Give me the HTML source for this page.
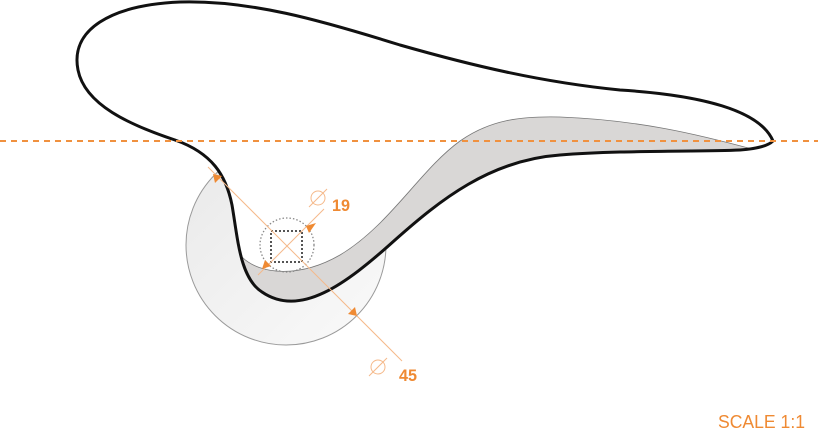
<!DOCTYPE html>
<html><head><meta charset="utf-8"><style>
html,body{margin:0;padding:0;background:#fff;width:818px;height:433px;overflow:hidden}
svg{display:block}
</style></head><body>
<svg width="818" height="433" viewBox="0 0 818 433" xmlns="http://www.w3.org/2000/svg">
<defs>
<linearGradient id="g1" x1="0" y1="0" x2="1" y2="1">
<stop offset="0" stop-color="#e9e9e9"/><stop offset="1" stop-color="#fafafa"/>
</linearGradient>
</defs>
<circle cx="286" cy="245" r="100" fill="url(#g1)" stroke="#9a9a9a" stroke-width="1"/>
<path d="M773,141 C760,110 700,95 620,90 C540,82 470,65 400,45 C320,20 250,0 180,2 C110,5 70,30 78,70 C85,105 130,125 175,140 C212,153 226,175 232,205 C238,240 240,278 262,292 C300,318 345,285 395,240 C440,200 490,160 560,155 C620,150 700,152 740,150 C755,149 768,146 773,141 Z" fill="#fff"/>
<path d="M242,257 C260,275 300,278 340,255 C390,225 420,170 460,141 C490,120 520,116 560,117 C640,120 700,135 752,149 C700,152 620,150 560,155 C490,160 440,200 395,240 C345,285 300,318 262,292 C252,284 246,270 242,257 Z" fill="#d9d7d6" stroke="#777" stroke-width="0.8"/>
<circle cx="287" cy="245" r="27" fill="none" stroke="#888" stroke-width="1.3" stroke-dasharray="1.5 2"/>
<rect x="271" y="231" width="31" height="31" fill="none" stroke="#555" stroke-width="2" stroke-dasharray="2 2"/>
<path d="M773,141 C760,110 700,95 620,90 C540,82 470,65 400,45 C320,20 250,0 180,2 C110,5 70,30 78,70 C85,105 130,125 175,140 C212,153 226,175 232,205 C238,240 240,278 262,292 C300,318 345,285 395,240 C440,200 490,160 560,155 C620,150 700,152 740,150 C755,149 768,146 773,141 Z" fill="none" stroke="#111" stroke-width="3"/>
<line x1="0" y1="141" x2="818" y2="141" stroke="#f0913f" stroke-width="2" stroke-dasharray="6 5"/>
<g stroke="#f5b98a" stroke-width="1" fill="none">
<line x1="208" y1="167" x2="402" y2="361"/>
<line x1="324" y1="209" x2="258" y2="275"/>
<circle cx="318" cy="198" r="7"/>
<line x1="309" y1="207" x2="327" y2="189"/>
<circle cx="378" cy="367" r="7"/>
<line x1="369" y1="376" x2="387" y2="358"/>
</g>
<g fill="#ef8a33">
<polygon points="213,174 222,176 215,183"/>
<polygon points="357,316 348,314 355,307"/>
<polygon points="306,226 316,223 309,233"/>
<polygon points="262,269 265,260 271,266"/>
</g>
<g font-family="'Liberation Sans',sans-serif" font-weight="bold" fill="#ef8a33">
<text x="332" y="211" font-size="17" textLength="18" lengthAdjust="spacingAndGlyphs">19</text>
<text x="399" y="381" font-size="17" textLength="18" lengthAdjust="spacingAndGlyphs">45</text>
<text x="718" y="428" font-size="18" font-weight="normal" textLength="87" lengthAdjust="spacingAndGlyphs">SCALE 1:1</text>
</g>
</svg>
</body></html>
